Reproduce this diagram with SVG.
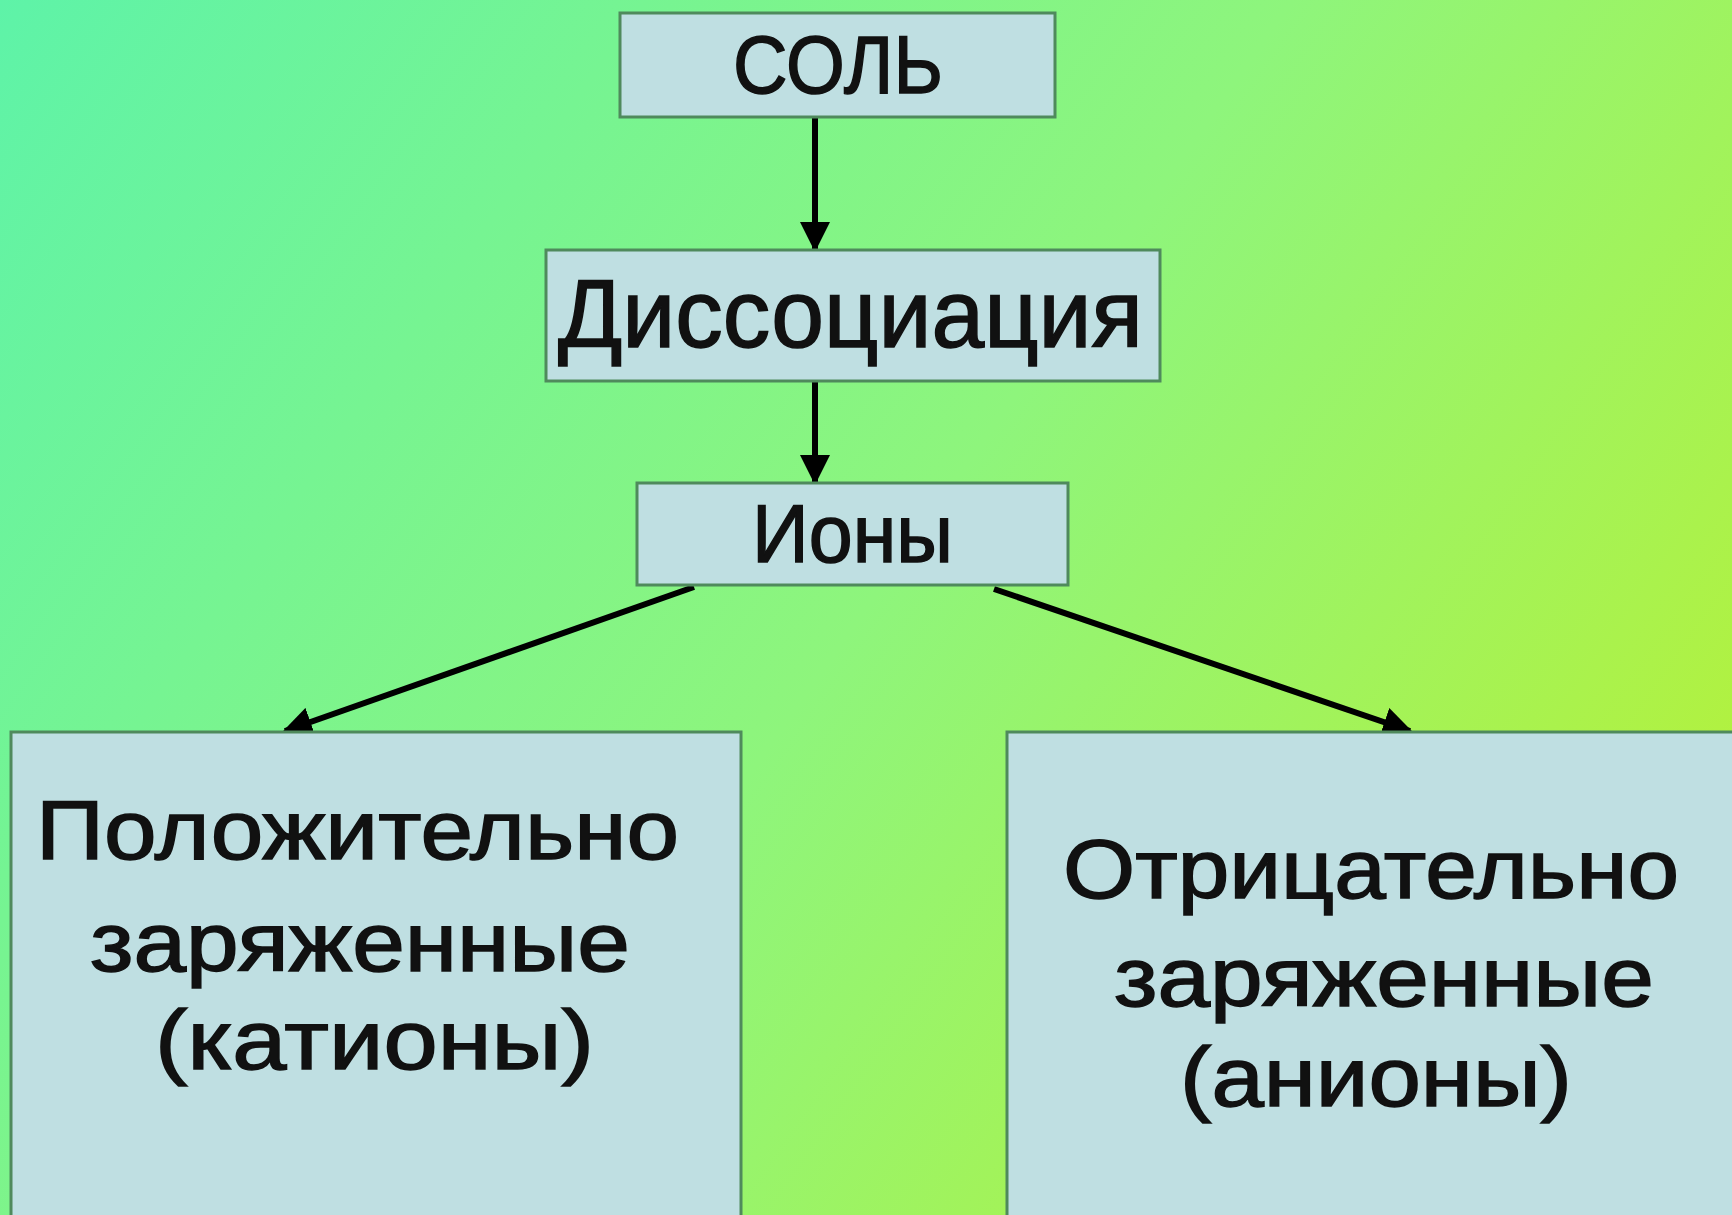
<svg xmlns="http://www.w3.org/2000/svg" width="1732" height="1215" viewBox="0 0 1732 1215">
<defs>
<linearGradient id="bg" x1="0" y1="0" x2="1732" y2="1215" gradientUnits="userSpaceOnUse">
<stop offset="0" stop-color="#5ef3a8"/>
<stop offset="0.5" stop-color="#8ef57c"/>
<stop offset="1" stop-color="#bdf02c"/>
</linearGradient>
<marker id="ah" viewBox="0 0 10 10" refX="9" refY="5" markerWidth="5" markerHeight="5" markerUnits="strokeWidth" orient="auto">
<path d="M0,0 L10,5 L0,10 z" fill="#000"/>
</marker>
<style>
.box{fill:#bfdfe2;stroke:#4f8a5c;stroke-width:3}
.t{font-family:"Liberation Sans",Arial,sans-serif;fill:#111;stroke:#111;stroke-width:1.5}
.c{stroke:#000;stroke-width:6;fill:none;marker-end:url(#ah)}
</style>
</defs>
<rect width="1732" height="1215" fill="url(#bg)"/>
<g id="connectors">
<line class="c" x1="815" y1="117" x2="815" y2="249"/>
<line class="c" x1="815" y1="381" x2="815" y2="482"/>
<line class="c" x1="694" y1="587" x2="285" y2="731"/>
<line class="c" x1="994" y1="589" x2="1410" y2="731"/>
</g>
<g id="n-sol">
<rect class="box" x="620" y="13" width="435" height="104"/>
<text class="t" x="733" y="93" font-size="82" textLength="210" lengthAdjust="spacingAndGlyphs">СОЛЬ</text>
</g>
<g id="n-dissociation">
<rect class="box" x="546" y="250" width="614" height="131"/>
<text class="t" x="558" y="347" font-size="96" textLength="585" lengthAdjust="spacingAndGlyphs">Диссоциация</text>
</g>
<g id="n-iony">
<rect class="box" x="637" y="483" width="431" height="102"/>
<text class="t" x="752" y="562" font-size="82" textLength="201" lengthAdjust="spacingAndGlyphs">Ионы</text>
</g>
<g id="n-cations">
<rect class="box" x="11" y="732" width="730" height="490"/>
<text class="t" x="36" y="859" font-size="84" textLength="643" lengthAdjust="spacingAndGlyphs">Положительно</text>
<text class="t" x="90" y="971" font-size="84" textLength="540" lengthAdjust="spacingAndGlyphs">заряженные</text>
<text class="t" x="155" y="1069" font-size="84" textLength="439" lengthAdjust="spacingAndGlyphs">(катионы)</text>
</g>
<g id="n-anions">
<rect class="box" x="1007" y="732" width="730" height="490"/>
<text class="t" x="1063" y="898" font-size="84" textLength="616" lengthAdjust="spacingAndGlyphs">Отрицательно</text>
<text class="t" x="1114" y="1006" font-size="84" textLength="540" lengthAdjust="spacingAndGlyphs">заряженные</text>
<text class="t" x="1180" y="1106" font-size="84" textLength="392" lengthAdjust="spacingAndGlyphs">(анионы)</text>
</g>
</svg>
